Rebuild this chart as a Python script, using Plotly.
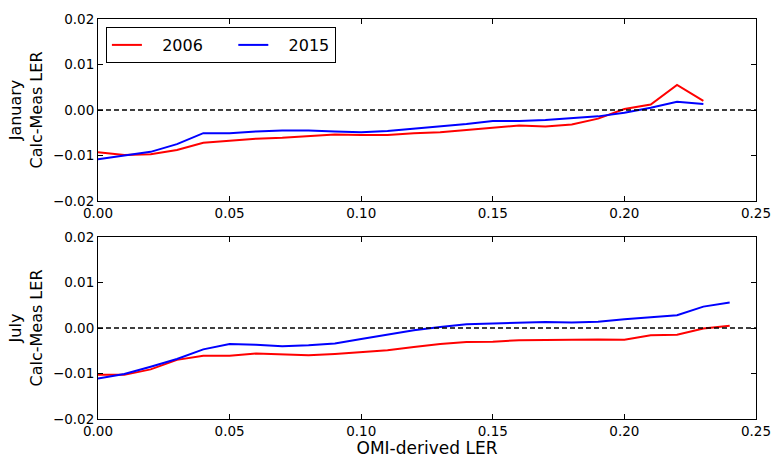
import plotly.graph_objects as go
from plotly.subplots import make_subplots

x_jan = [0.00, 0.01, 0.02, 0.03, 0.04, 0.05, 0.06, 0.07, 0.08, 0.09, 0.10, 0.11,
         0.12, 0.13, 0.14, 0.15, 0.16, 0.17, 0.18, 0.19, 0.20, 0.21, 0.22, 0.23]
jan_2006 = [-0.0093, -0.0099, -0.0097, -0.0088, -0.0072, -0.0067, -0.0063, -0.0061,
            -0.0058, -0.0054, -0.0055, -0.0055, -0.0051, -0.0049, -0.0044, -0.0039,
            -0.0034, -0.0036, -0.0032, -0.0019, 0.0002, 0.0012, 0.0055, 0.0020]
jan_2015 = [-0.0108, -0.0100, -0.0092, -0.0075, -0.0051, -0.0051, -0.0047, -0.0045,
            -0.0045, -0.0047, -0.0049, -0.0046, -0.0041, -0.0037, -0.0031, -0.0024,
            -0.0024, -0.0022, -0.0018, -0.0014, -0.0006, 0.0005, 0.0018, 0.0013]

x_jul = [0.00, 0.01, 0.02, 0.03, 0.04, 0.05, 0.06, 0.07, 0.08, 0.09, 0.10, 0.11,
         0.12, 0.13, 0.14, 0.15, 0.16, 0.17, 0.18, 0.19, 0.20, 0.21, 0.22, 0.23, 0.24]
jul_2006 = [-0.0103, -0.0103, -0.0091, -0.0070, -0.0061, -0.0061, -0.0056, -0.0058,
            -0.0060, -0.0057, -0.0053, -0.0049, -0.0042, -0.0035, -0.0031, -0.0030,
            -0.0027, -0.0026, -0.0026, -0.0025, -0.0026, -0.0016, -0.0015, -0.0001, 0.0005]
jul_2015 = [-0.0111, -0.0101, -0.0085, -0.0068, -0.0047, -0.0035, -0.0037, -0.0040,
            -0.0038, -0.0034, -0.0024, -0.0015, -0.0005, 0.0002, 0.0008, 0.0010,
            0.0012, 0.0013, 0.0012, 0.0014, 0.0019, 0.0024, 0.0028, 0.0047, 0.0056]

x_ticks = [0.00, 0.05, 0.10, 0.15, 0.20, 0.25]
y_ticks = [-0.02, -0.01, 0.00, 0.01, 0.02]
series_names = ["2006", "2015"]
series_colors = ["#ff0000", "#0000ff"]

FONT = "DejaVu Sans"
NB = "\u00a0"
legend_labels = [NB * 3 + series_names[0] + NB * 5, NB * 3 + series_names[1]]

fig = make_subplots(rows=2, cols=1, vertical_spacing=0.09)

for label, color, ys in zip(legend_labels, series_colors, [jan_2006, jan_2015]):
    fig.add_trace(go.Scatter(x=x_jan, y=ys, mode="lines", name=label,
                             line=dict(color=color, width=2), showlegend=True),
                  row=1, col=1)
for label, color, ys in zip(legend_labels, series_colors, [jul_2006, jul_2015]):
    fig.add_trace(go.Scatter(x=x_jul, y=ys, mode="lines", name=label,
                             line=dict(color=color, width=2), showlegend=False),
                  row=2, col=1)

for r in (1, 2):
    fig.add_hline(y=0, line=dict(color="black", width=1.3, dash="5px,3px"), row=r, col=1)

axis_common = dict(
    showgrid=False, zeroline=False, showline=True, linecolor="black", linewidth=1,
    mirror="ticks", ticks="inside", ticklen=5, tickcolor="black", tickwidth=1,
    automargin=False, ticklabeloverflow="allow",
    tickfont=dict(family=FONT, size=13.5, color="black"),
)
for r in (1, 2):
    fig.update_xaxes(range=[0, 0.25], tickvals=x_ticks, tickformat=".2f",
                     **axis_common, row=r, col=1)
    fig.update_yaxes(range=[-0.02, 0.02], tickvals=y_ticks, tickformat=".2f",
                     **axis_common, row=r, col=1)

fig.update_xaxes(title=dict(text="OMI-derived LER", font=dict(family=FONT, size=17, color="black"),
                            standoff=4), row=2, col=1)
fig.update_yaxes(title=dict(text="January<br>Calc-Meas LER",
                            font=dict(family=FONT, size=16, color="black"), standoff=6),
                 row=1, col=1)
fig.update_yaxes(title=dict(text="July<br>Calc-Meas LER",
                            font=dict(family=FONT, size=16, color="black"), standoff=6),
                 row=2, col=1)

fig.update_layout(
    width=771, height=458,
    margin=dict(l=98, r=15, t=19, b=39),
    paper_bgcolor="white", plot_bgcolor="white",
    font=dict(family=FONT, color="black"),
    legend=dict(orientation="h", x=0.012, y=0.98, xanchor="left", yanchor="top",
                bgcolor="white", bordercolor="black", borderwidth=1,
                font=dict(family=FONT, size=16, color="black"),
                itemwidth=30),
)

fig.write_html("out.html", config={"displayModeBar": False},
               post_script="document.body.style.margin='0';document.body.style.overflow='hidden';")
